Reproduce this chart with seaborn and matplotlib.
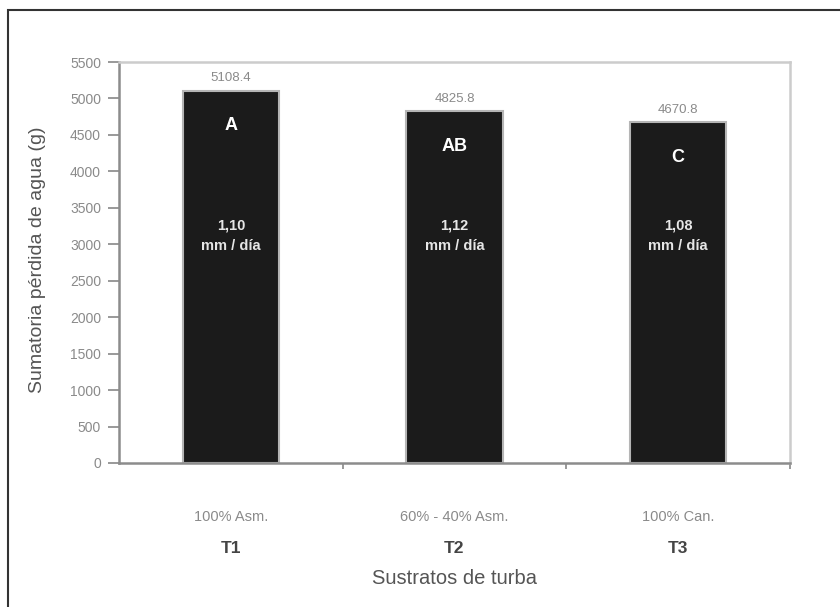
import matplotlib
matplotlib.use("Agg")
import matplotlib.pyplot as plt
import matplotlib.transforms as mtransforms
from matplotlib.patches import Rectangle
import seaborn as sns
import pandas as pd

categories = ["T1", "T2", "T3"]
substrates = ["100% Asm.", "60% - 40% Asm.", "100% Can."]
values = [5108.4, 4825.8, 4670.8]
value_labels = ["5108.4", "4825.8", "4670.8"]
letters = ["A", "AB", "C"]
rates = ["1,10\nmm / día", "1,12\nmm / día", "1,08\nmm / día"]
yticks = list(range(0, 5501, 500))

sns.set_theme(style="white")
plt.rcParams['font.family'] = ['Liberation Sans', 'DejaVu Sans']

df = pd.DataFrame({"cat": categories, "val": values})

fig = plt.figure(figsize=(8.4, 6.07), dpi=100)
ax = fig.add_axes([119/840, 1-463/607, (790-119)/840, (463-62)/607])

sns.barplot(data=df, x="cat", y="val", ax=ax, color="#1b1b1b", width=0.43,
            edgecolor="#b5b5b5", linewidth=1.5, saturation=1)

ax.set_xlim(-0.5, 2.5)
ax.set_ylim(0, 5500)
ax.set_yticks(yticks)
ax.set_yticklabels([str(v) for v in yticks], fontsize=10, color="#8a8a8a")
ax.tick_params(axis="y", direction="out", length=8, width=1.2, color="#888888", pad=5, left=True)

ax.set_xticks([0, 1, 2])
ax.set_xticklabels([""] * 3)
ax.tick_params(axis="x", which="major", length=0)
ax.set_xticks([0.5, 1.5, 2.5], minor=True)
ax.tick_params(axis="x", which="minor", direction="out", length=4, width=1.2, color="#888888", bottom=True)

for side in ["left", "bottom"]:
    ax.spines[side].set_color("#8c8c8c")
    ax.spines[side].set_linewidth(1.8)
for side in ["top", "right"]:
    ax.spines[side].set_visible(True)
    ax.spines[side].set_color("#cccccc")
    ax.spines[side].set_linewidth(1.8)

ax.set_xlabel("")
ax.set_ylabel("")
ax.text(-0.121, 0.506, "Sumatoria pérdida de agua (g)", transform=ax.transAxes, rotation=90,
        ha="center", va="center", fontsize=14, color="#555555")

trans = mtransforms.blended_transform_factory(ax.transData, ax.transAxes)
for i, (cat, sub, v, vl, let, r) in enumerate(zip(categories, substrates, values, value_labels, letters, rates)):
    ax.text(i, v + 90, vl, ha="center", va="bottom", fontsize=9.5, color="#8a8a8a")
    ax.text(i, v - 480, let, ha="center", va="center", fontsize=13, fontweight="bold", color="white")
    ax.text(i, 3114, r, ha="center", va="center", fontsize=10.5, fontweight="bold", color="#e6e6e6", linespacing=1.6)
    ax.text(i, -0.135, sub, transform=trans, ha="center", va="center", fontsize=10.5, color="#8a8a8a")
    ax.text(i, -0.212, cat, transform=trans, ha="center", va="center", fontsize=12.5, fontweight="bold", color="#444444")

ax.text(0.5, -0.287, "Sustratos de turba", transform=ax.transAxes, ha="center", va="center",
        fontsize=14.5, color="#555555")

# outer border
fig.patches.append(Rectangle((8/840, -0.05), 1.0, 1 - 10/607 + 0.05, transform=fig.transFigure,
                             fill=False, edgecolor="#333333", linewidth=1.5))

fig.savefig("out.png", dpi=100)
